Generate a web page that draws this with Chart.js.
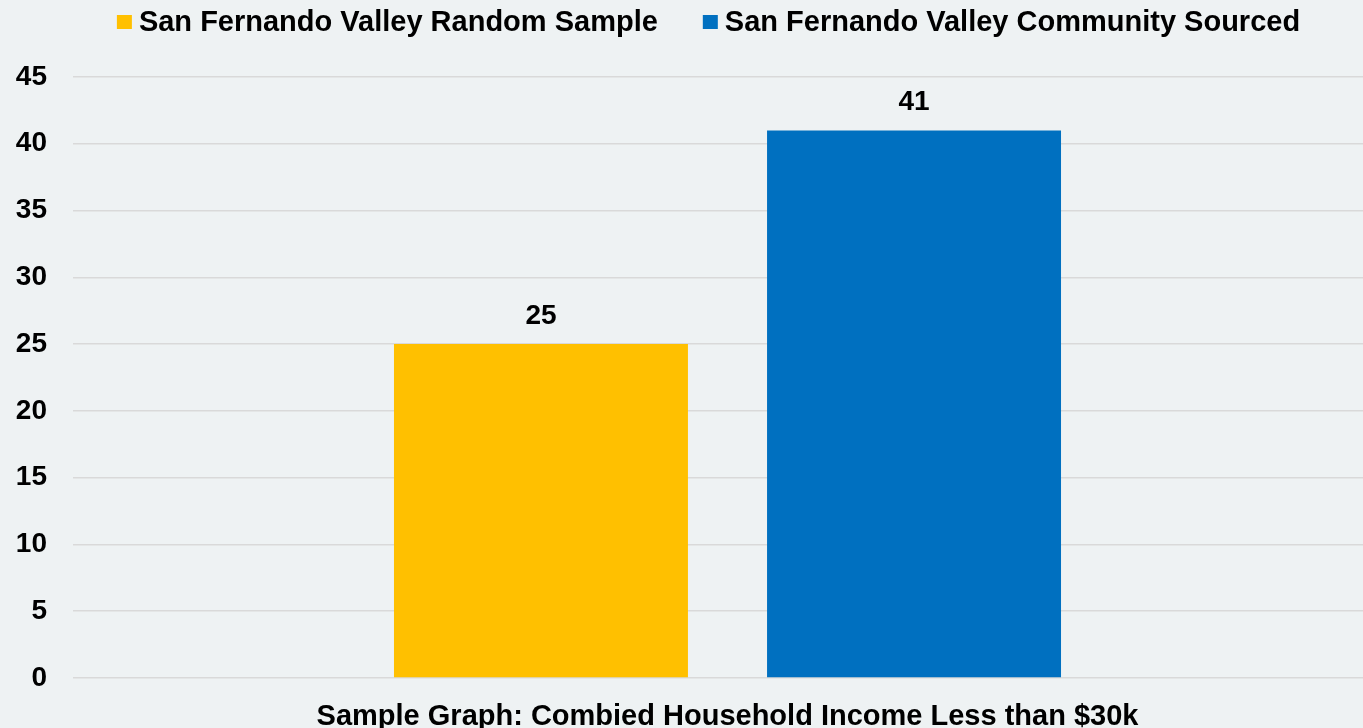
<!DOCTYPE html>
<html>
<head>
<meta charset="utf-8">
<script src="https://cdn.jsdelivr.net/npm/chart.js@4/dist/chart.umd.min.js"></script>
<style>
  html, body { margin: 0; padding: 0; background: #eef2f3; overflow: hidden; }
  #wrap { width: 1382px; height: 728px; }
</style>
</head>
<body>
<div id="wrap"><canvas id="c" width="1382" height="728"></canvas></div>
<script>
const categories = ["Sample Graph: Combied Household Income Less than $30k"];
const seriesNames = ["San Fernando Valley Random Sample", "San Fernando Valley Community Sourced"];
const randomSample = [25];
const communitySourced = [41];
const seriesColors = ["#FFC000", "#0070C0"];
const yTicks = [0, 5, 10, 15, 20, 25, 30, 35, 40, 45];

const FONT = "'Liberation Sans', Arial, sans-serif";

const bgPlugin = {
  id: 'bg',
  beforeDraw(chart) {
    const ctx = chart.ctx;
    ctx.save();
    ctx.fillStyle = '#eef2f3';
    ctx.fillRect(0, 0, chart.width, chart.height);
    ctx.restore();
  }
};

const valueLabels = {
  id: 'valueLabels',
  afterDatasetsDraw(chart) {
    const ctx = chart.ctx;
    ctx.save();
    ctx.font = "bold 28px " + FONT;
    ctx.fillStyle = '#000';
    ctx.textAlign = 'center';
    ctx.textBaseline = 'middle';
    chart.data.datasets.forEach((ds, i) => {
      const meta = chart.getDatasetMeta(i);
      meta.data.forEach((bar, j) => {
        ctx.fillText(String(ds.data[j]), bar.x, bar.y - 28);
      });
    });
    ctx.restore();
  }
};

const customLegend = {
  id: 'customLegend',
  afterDraw(chart, args, opts) {
    const ctx = chart.ctx;
    ctx.save();
    ctx.font = "bold 29px " + FONT;
    ctx.textBaseline = 'middle';
    ctx.textAlign = 'left';
    const boxW = 15, boxH = 14, gap = 7, itemGap = 45;
    const items = chart.data.datasets.map(d => ({ text: d.label, color: d.backgroundColor }));
    const widths = items.map(it => boxW + gap + ctx.measureText(it.text).width);
    const total = widths.reduce((a, b) => a + b, 0) + itemGap * (items.length - 1);
    let x = opts.centerX - total / 2;
    const cy = opts.centerY;
    items.forEach((it, i) => {
      ctx.fillStyle = it.color;
      ctx.fillRect(x, cy - boxH / 2, boxW, boxH);
      ctx.fillStyle = '#000';
      ctx.fillText(it.text, x + boxW + gap, cy + 1);
      x += widths[i] + itemGap;
    });
    ctx.restore();
  }
};

new Chart(document.getElementById('c'), {
  type: 'bar',
  data: {
    labels: categories,
    datasets: [
      { label: seriesNames[0], data: randomSample, backgroundColor: seriesColors[0] },
      { label: seriesNames[1], data: communitySourced, backgroundColor: seriesColors[1] }
    ]
  },
  options: {
    responsive: false,
    animation: false,
    devicePixelRatio: 1,
    categoryPercentage: 0.57,
    barPercentage: 0.788,
    layout: { padding: { top: 77, bottom: 0, left: 0, right: 0 } },
    plugins: {
      legend: { display: false },
      tooltip: { enabled: false },
      customLegend: { centerX: 708.5, centerY: 22 }
    },
    scales: {
      x: {
        grid: { display: false },
        border: { display: false },
        ticks: {
          color: '#000',
          font: { family: FONT, size: 29, weight: 'bold' },
          padding: 14,
          maxRotation: 0
        },
        afterFit(scale) { scale.height = 50; }
      },
      y: {
        min: 0,
        max: 45,
        afterBuildTicks(scale) { scale.ticks = yTicks.map(v => ({ value: v })); },
        grid: { color: '#d9d9d9', lineWidth: 1.5, drawTicks: false },
        border: { display: false },
        ticks: {
          color: '#000',
          font: { family: FONT, size: 28, weight: 'bold' },
          padding: 26
        },
        afterFit(scale) { scale.width = 73; }
      }
    }
  },
  plugins: [bgPlugin, valueLabels, customLegend]
});
</script>
</body>
</html>
